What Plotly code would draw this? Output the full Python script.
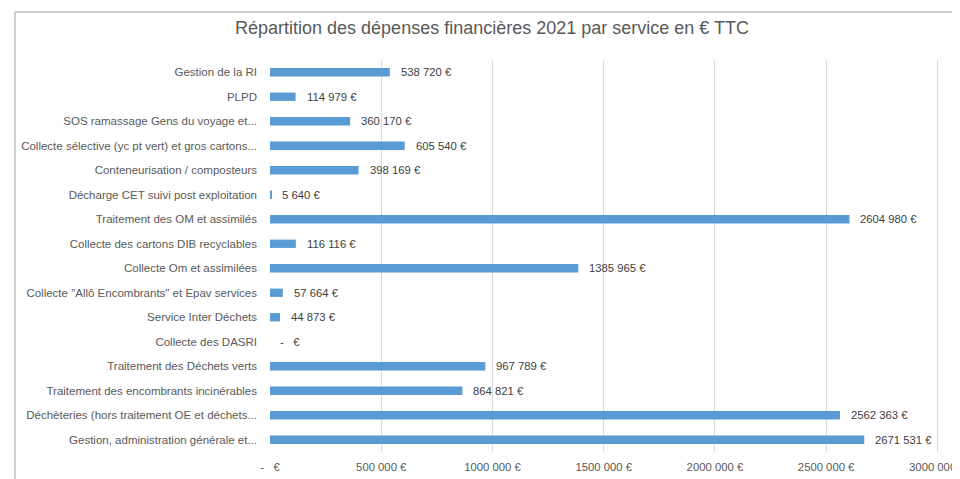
import plotly.graph_objects as go

categories = [
    "Gestion de la RI",
    "PLPD",
    "SOS ramassage Gens du voyage et...",
    "Collecte sélective (yc pt vert) et gros cartons...",
    "Conteneurisation / composteurs",
    "Décharge CET suivi post exploitation",
    "Traitement des OM et assimilés",
    "Collecte des cartons DIB recyclables",
    "Collecte Om et assimilées",
    "Collecte \"Allô Encombrants\" et Epav services",
    "Service Inter Déchets",
    "Collecte des DASRI",
    "Traitement des Déchets verts",
    "Traitement des encombrants incinérables",
    "Déchèteries (hors traitement OE et déchets...",
    "Gestion, administration générale et...",
]
values = [538720, 114979, 360170, 605540, 398169, 5640, 2604980, 116116,
          1385965, 57664, 44873, 0, 967789, 864821, 2562363, 2671531]
value_labels = ["538 720 €", "114 979 €", "360 170 €", "605 540 €", "398 169 €",
                "5 640 €", "2604 980 €", "116 116 €", "1385 965 €", "57 664 €",
                "44 873 €", "-   €", "967 789 €", "864 821 €", "2562 363 €", "2671 531 €"]
tick_vals = [0, 500000, 1000000, 1500000, 2000000, 2500000, 3000000]
tick_text = ["-   €", "500 000 €", "1000 000 €", "1500 000 €", "2000 000 €",
             "2500 000 €", "3000 000 €"]
title = "Répartition des dépenses financières 2021 par service en € TTC"

FONT = "Liberation Sans"
GREY = "#595959"

# page body has an 8px margin: figure is sized to fit the 960x479 window
W, H = 952, 471
L, T, R, B = 262, 52, 20, 27
PW, PH = W - L - R, H - T - B

fig = go.Figure()
fig.add_trace(go.Bar(
    x=values, y=categories, orientation="h",
    marker=dict(color="#5B9BD5", line=dict(width=0)),
    hoverinfo="x+y",
))

for c, v, t in zip(categories, values, value_labels):
    fig.add_annotation(x=v, y=c, text=t, showarrow=False, xanchor="left",
                       xshift=9 if v > 0 else 8,
                       font=dict(family=FONT, size=11.3, color="#404040"))

fig.update_layout(
    width=W, height=H,
    margin=dict(l=L, r=R, t=T, b=B, autoexpand=False),
    paper_bgcolor="white", plot_bgcolor="white",
    bargap=0.66,
    showlegend=False,
    title=dict(text=title, x=(492 - 8) / W, xanchor="center", y=1 - 20 / H,
               yanchor="middle", font=dict(family=FONT, size=18, color=GREY)),
    font=dict(family=FONT, size=11.3, color=GREY),
)
fig.update_xaxes(range=[0, 3012000], tickvals=tick_vals, ticktext=tick_text,
                 showgrid=True, gridcolor="#D9D9D9", gridwidth=1,
                 zeroline=False, showline=False, ticks="", automargin=False,
                 ticklabeloverflow="allow", ticklabelstandoff=7,
                 tickfont=dict(family=FONT, size=11.3, color=GREY), fixedrange=True)
fig.update_yaxes(categoryorder="array", categoryarray=categories[::-1],
                 autorange=True, showgrid=False, zeroline=False, showline=False,
                 ticks="", ticklabelstandoff=12, automargin=False,
                 tickfont=dict(family=FONT, size=11.5, color=GREY))

# frame around the chart (screenshot border)
fx = (7 - L) / PW
fy = 1 + (T - 4) / PH
fig.add_shape(type="line", xref="paper", yref="paper",
              x0=fx, x1=1 + R / PW + 0.05, y0=fy, y1=fy,
              line=dict(color="#BFBFBF", width=1.5))
fig.add_shape(type="line", xref="paper", yref="paper",
              x0=fx, x1=fx, y0=fy, y1=-B / PH - 0.05,
              line=dict(color="#BFBFBF", width=1.5))

fig.write_html("out.html")
